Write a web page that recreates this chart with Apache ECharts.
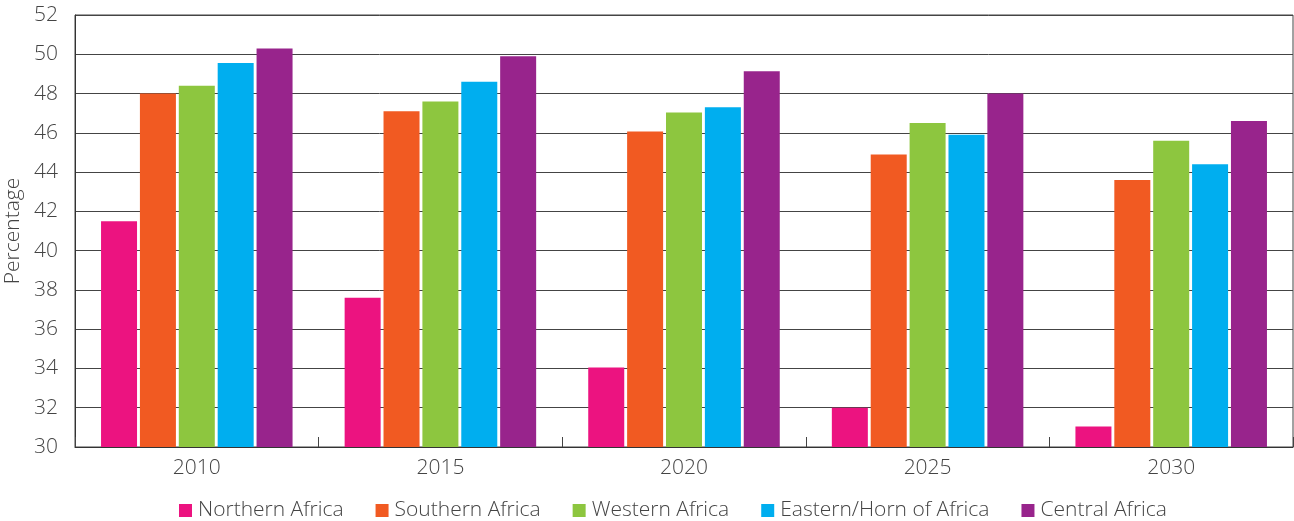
<!DOCTYPE html>
<html>
<head>
<meta charset="utf-8">
<script src="https://cdn.jsdelivr.net/npm/echarts@6/dist/echarts.min.js"></script>
<style>
html,body{margin:0;padding:0;background:#fff;}
#chart{width:1294px;height:521px;}
</style>
</head>
<body>
<div id="chart"></div>
<script>
const categories = ['2010', '2015', '2020', '2025', '2030'];
const seriesNames = ['Northern Africa', 'Southern Africa', 'Western Africa', 'Eastern/Horn of Africa', 'Central Africa'];
const northern = [41.5, 37.6, 34.05, 32.0, 31.05];
const southern = [48.0, 47.1, 46.07, 44.9, 43.6];
const western = [48.4, 47.6, 47.04, 46.5, 45.6];
const eastern = [49.55, 48.6, 47.3, 45.9, 44.4];
const central = [50.3, 49.9, 49.14, 48.0, 46.6];
const colors = ['#EC1380', '#F15A22', '#8DC63F', '#00AEEF', '#98248C'];
const allValues = [northern, southern, western, eastern, central];

const chart = echarts.init(document.getElementById('chart'));
const font = '"Open Sans", "Liberation Sans", Arial, sans-serif';
chart.setOption({
  animation: false,
  color: colors,
  textStyle: { fontFamily: font },
  grid: { left: 75, right: 1, top: 15, bottom: 74, show: true, borderColor: '#444', borderWidth: 1, containLabel: false, outerBoundsMode: 'none' },
  legend: {
    top: 500,
    left: 179,
    padding: 0,
    itemWidth: 13,
    itemHeight: 13,
    itemGap: 32,
    icon: 'rect',
    textStyle: { color: '#444', fontSize: 21, fontWeight: 300, fontFamily: font, padding: [0, 0, 0, 1] },
    data: seriesNames
  },
  xAxis: {
    type: 'category',
    data: categories,
    axisLine: { lineStyle: { color: '#333', width: 1 } },
    axisTick: { show: true, inside: true, length: 10, lineStyle: { color: '#444' } },
    axisLabel: { color: '#444', fontSize: 21, fontWeight: 300, margin: 11, fontFamily: font }
  },
  yAxis: {
    type: 'value',
    min: 30,
    max: 52,
    interval: 2,
    name: 'Percentage',
    nameLocation: 'middle',
    nameGap: 47,
    nameRotate: 90,
    nameTextStyle: { color: '#444', fontSize: 21, fontWeight: 300, fontFamily: font },
    axisLine: { show: true, lineStyle: { color: '#333' } },
    axisTick: { show: false },
    axisLabel: { color: '#444', fontSize: 21, fontWeight: 300, margin: 17, fontFamily: font },
    splitLine: { lineStyle: { color: '#444', width: 1 } }
  },
  series: seriesNames.map((n, i) => ({
    name: n,
    type: 'bar',
    data: allValues[i],
    barWidth: 36,
    barGap: '8%',
    itemStyle: { color: colors[i] }
  }))
});
</script>
</body>
</html>
